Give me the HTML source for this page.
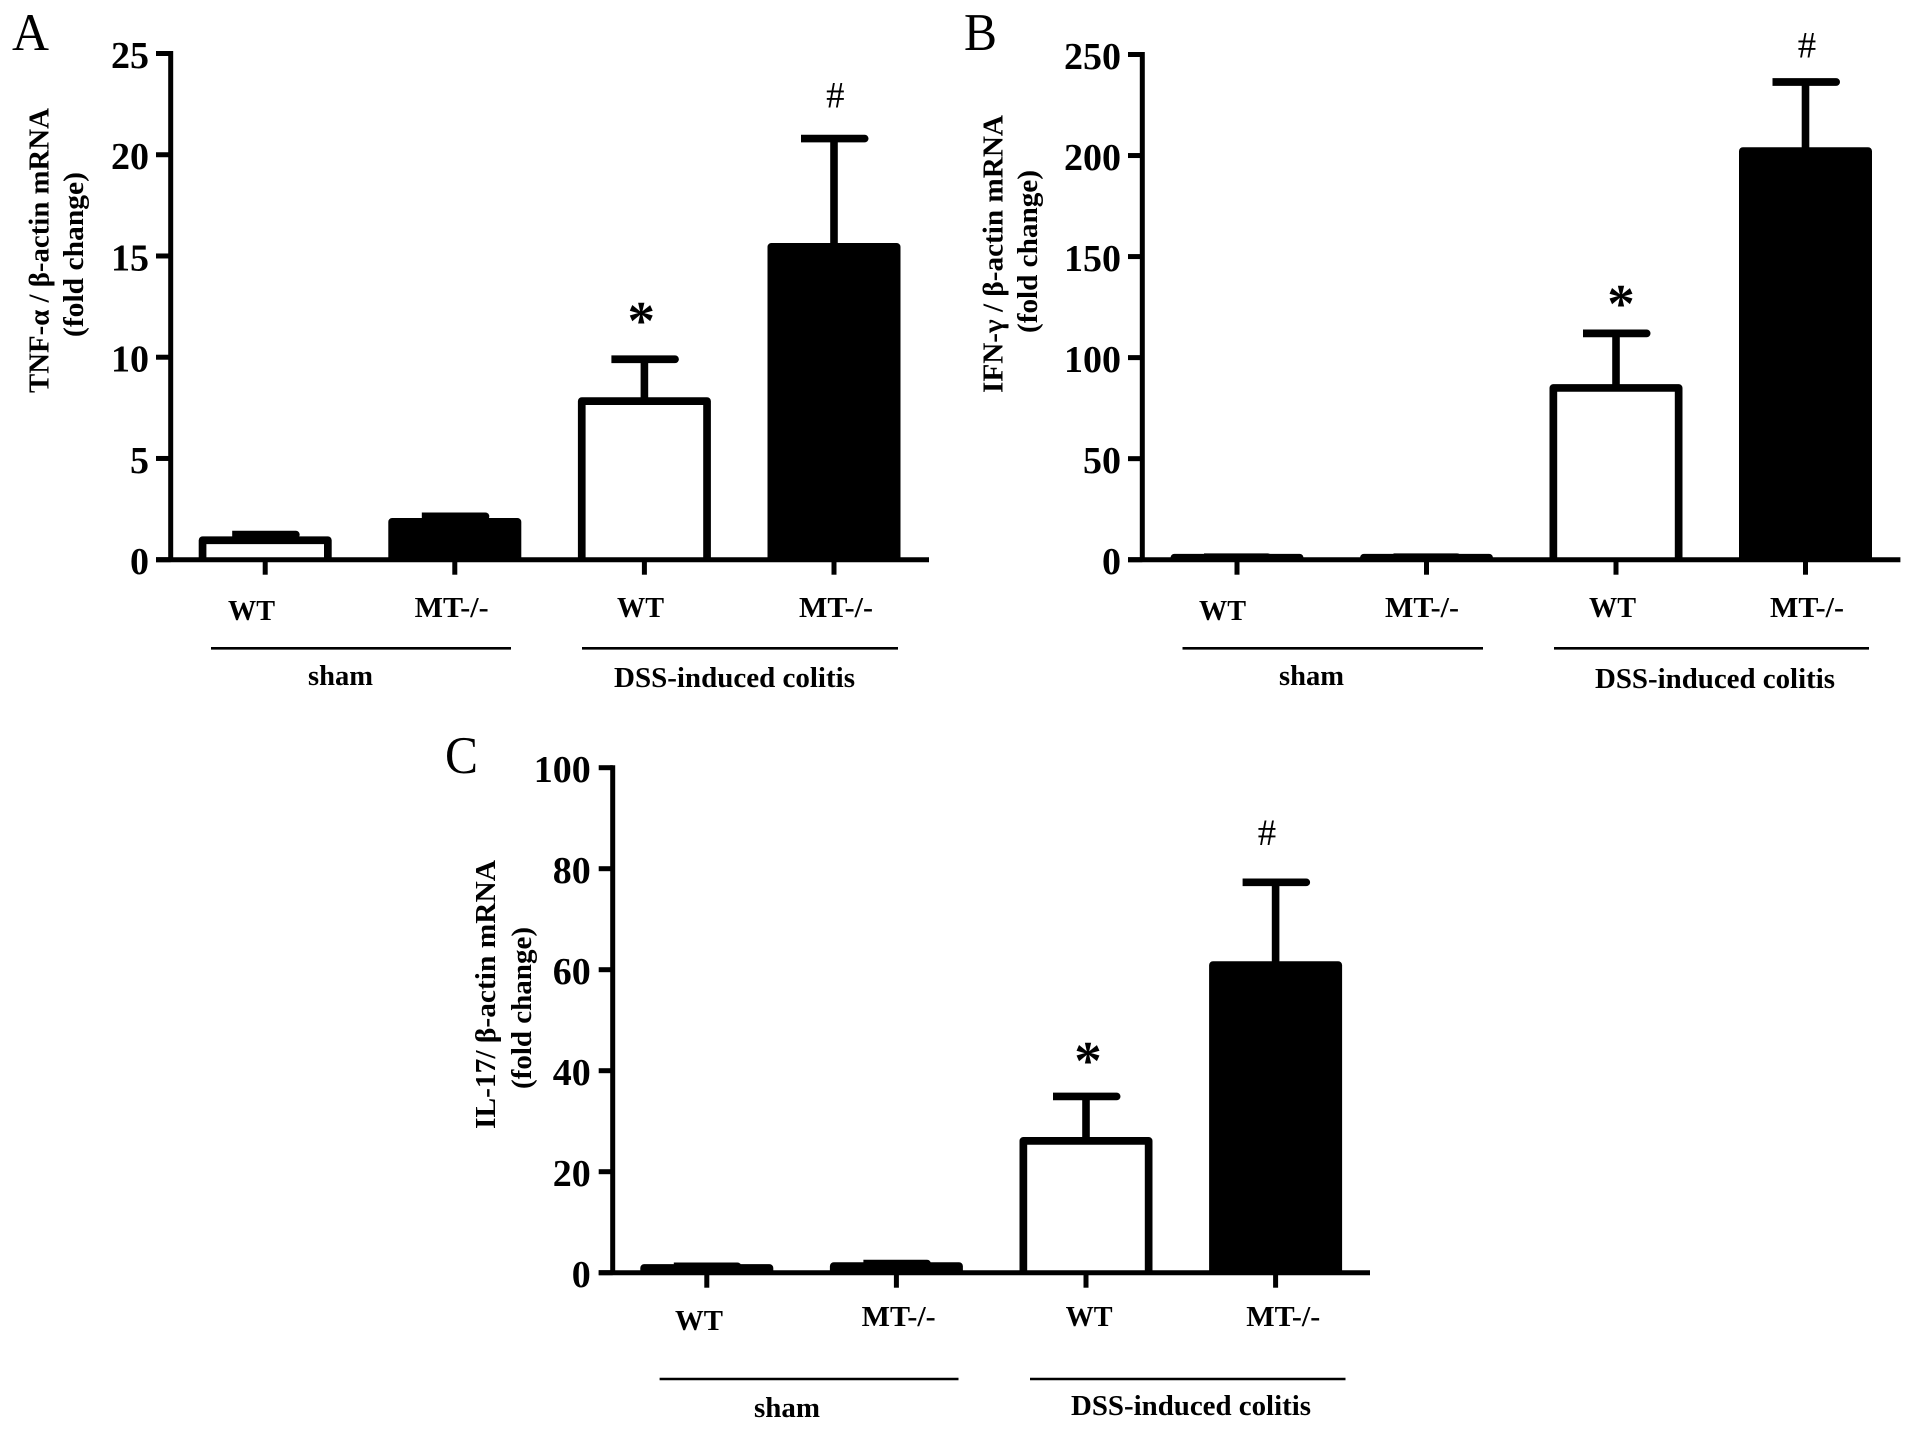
<!DOCTYPE html>
<html lang="en">
<head>
<meta charset="utf-8">
<title>Cytokine mRNA fold change bar charts</title>
<style>
html,body{margin:0;padding:0;background:#fff;}
svg{display:block;}
text{font-family:"Liberation Serif","DejaVu Serif",serif;fill:#000;}
.tick{font-weight:bold;font-size:38px;}
.xl{font-weight:bold;font-size:29px;}
.yl{font-weight:bold;font-size:29px;}
.letter{font-size:53px;}
.hash{font-size:37px;}
.star{font-size:55px;font-weight:bold;}
</style>
</head>
<body>
<svg id="figure" xmlns="http://www.w3.org/2000/svg" width="1913" height="1432" viewBox="0 0 1913 1432">
  <rect x="0" y="0" width="1913" height="1432" fill="#fff"/>

  <g id="panel-a">
    <text class="letter" x="12" y="50" textLength="37" lengthAdjust="spacingAndGlyphs">A</text>
    <text class="yl" transform="translate(48.3,393) rotate(-90)" textLength="285" lengthAdjust="spacingAndGlyphs">TNF-α / β-actin mRNA</text>
    <text class="yl" transform="translate(83,337) rotate(-90)" textLength="165" lengthAdjust="spacingAndGlyphs">(fold change)</text>
    <text class="xl" x="228" y="620" textLength="47" lengthAdjust="spacingAndGlyphs">WT</text>
    <text class="xl" x="414.6" y="617" textLength="74" lengthAdjust="spacingAndGlyphs">MT-/-</text>
    <text class="xl" x="617" y="617" textLength="47" lengthAdjust="spacingAndGlyphs">WT</text>
    <text class="xl" x="799" y="617" textLength="74" lengthAdjust="spacingAndGlyphs">MT-/-</text>
    <line x1="211" x2="511" y1="648.3" y2="648.3" stroke="#000" stroke-width="2.6"/>
    <line x1="582" x2="898" y1="648.3" y2="648.3" stroke="#000" stroke-width="2.6"/>
    <text class="xl" x="308" y="685" textLength="65" lengthAdjust="spacingAndGlyphs">sham</text>
    <text class="xl" x="614" y="687" textLength="241" lengthAdjust="spacingAndGlyphs">DSS-induced colitis</text>
    <text class="hash" x="835.3" y="107.5" text-anchor="middle" textLength="18.4" lengthAdjust="spacingAndGlyphs">#</text>
    <text class="star" x="641.3" y="339" text-anchor="middle">*</text>
  </g>

  <g id="panel-b">
    <text class="letter" x="964" y="50" textLength="33" lengthAdjust="spacingAndGlyphs">B</text>
    <text class="yl" transform="translate(1002.5,393) rotate(-90)" textLength="278" lengthAdjust="spacingAndGlyphs">IFN-γ / β-actin mRNA</text>
    <text class="yl" transform="translate(1037,333) rotate(-90)" textLength="163" lengthAdjust="spacingAndGlyphs">(fold change)</text>
    <text class="xl" x="1199" y="620" textLength="47" lengthAdjust="spacingAndGlyphs">WT</text>
    <text class="xl" x="1385" y="617" textLength="74" lengthAdjust="spacingAndGlyphs">MT-/-</text>
    <text class="xl" x="1589" y="617" textLength="47" lengthAdjust="spacingAndGlyphs">WT</text>
    <text class="xl" x="1770" y="617" textLength="74" lengthAdjust="spacingAndGlyphs">MT-/-</text>
    <line x1="1182.5" x2="1483" y1="648.3" y2="648.3" stroke="#000" stroke-width="2.6"/>
    <line x1="1554" x2="1869" y1="648.3" y2="648.3" stroke="#000" stroke-width="2.6"/>
    <text class="xl" x="1279" y="685" textLength="65" lengthAdjust="spacingAndGlyphs">sham</text>
    <text class="xl" x="1595" y="688" textLength="240" lengthAdjust="spacingAndGlyphs">DSS-induced colitis</text>
    <text class="hash" x="1807" y="57.4" text-anchor="middle" textLength="18.4" lengthAdjust="spacingAndGlyphs">#</text>
    <text class="star" x="1621" y="322" text-anchor="middle">*</text>
  </g>

  <g id="panel-c">
    <text class="letter" x="445" y="773" textLength="33" lengthAdjust="spacingAndGlyphs">C</text>
    <text class="yl" transform="translate(495,1129) rotate(-90)" textLength="269" lengthAdjust="spacingAndGlyphs">IL-17/ β-actin mRNA</text>
    <text class="yl" transform="translate(531,1089) rotate(-90)" textLength="162" lengthAdjust="spacingAndGlyphs">(fold change)</text>
    <text class="xl" x="675" y="1330" textLength="48" lengthAdjust="spacingAndGlyphs">WT</text>
    <text class="xl" x="861.7" y="1326" textLength="74" lengthAdjust="spacingAndGlyphs">MT-/-</text>
    <text class="xl" x="1065.6" y="1326" textLength="47" lengthAdjust="spacingAndGlyphs">WT</text>
    <text class="xl" x="1246.3" y="1326" textLength="74" lengthAdjust="spacingAndGlyphs">MT-/-</text>
    <line x1="659.6" x2="958.5" y1="1379" y2="1379" stroke="#000" stroke-width="2.6"/>
    <line x1="1030" x2="1345.5" y1="1379" y2="1379" stroke="#000" stroke-width="2.6"/>
    <text class="xl" x="754" y="1417" textLength="66" lengthAdjust="spacingAndGlyphs">sham</text>
    <text class="xl" x="1071" y="1415" textLength="240" lengthAdjust="spacingAndGlyphs">DSS-induced colitis</text>
    <text class="hash" x="1267" y="845" text-anchor="middle" textLength="18.4" lengthAdjust="spacingAndGlyphs">#</text>
    <text class="star" x="1088" y="1079" text-anchor="middle">*</text>
  </g>
</svg>
<script>
// Chart values
const categories = ['sham-wt', 'sham-mt', 'dss-wt', 'dss-mt'];
const barFills = ['#fff', '#000', '#fff', '#000'];

const tnfTicks = [0, 5, 10, 15, 20, 25];
const tnfMeans = [0.96, 1.87, 7.83, 15.45];
const tnfUpper = [1.24, 2.14, 9.9, 20.8];

const ifnTicks = [0, 50, 100, 150, 200, 250];
const ifnMeans = [1.0, 1.0, 85, 202.2];
const ifnUpper = [1.2, 1.2, 112, 236.4];

const il17Ticks = [0, 20, 40, 60, 80, 100];
const il17Means = [0.94, 1.3, 26.1, 60.9];
const il17Upper = [1.26, 1.8, 34.9, 77.3];

const svgNS = 'http://www.w3.org/2000/svg';

function make(tag, parent) {
  const el = document.createElementNS(svgNS, tag);
  parent.appendChild(el);
  return el;
}

function drawPanel(cfg) {
  const root = document.getElementById(cfg.id);
  const maxV = cfg.ticks[cfg.ticks.length - 1];
  const yScale = v => cfg.y0 - (v / maxV) * (cfg.y0 - cfg.yTop);
  const xScale = i => cfg.x0 + i * cfg.step;
  const halfBar = 62.65;
  const barStroke = 7.7;

  cfg.means.forEach((m, i) => {
    const cx = xScale(i);
    const yMean = yScale(m);
    const yUp = yScale(cfg.upper[i]);

    const stem = make('line', root);
    
    
    stem.setAttribute('x1', cx);
    stem.setAttribute('x2', cx);
    stem.setAttribute('y1', yMean);
    stem.setAttribute('y2', yUp);
    stem.setAttribute('stroke', '#000');
    stem.setAttribute('stroke-width', 7.6);

    const capHalf = barStroke / 2;
    const cap = make('path', root);
    
    
    cap.setAttribute('d', 'M' + (cx - 33) + ' ' + (yUp - capHalf) +
      ' H' + (cx + 34.5 - capHalf) +
      ' a' + capHalf + ' ' + capHalf + ' 0 0 1 0 ' + barStroke +
      ' H' + (cx - 33) + ' Z');
    cap.setAttribute('fill', '#000');

    const bar = make('path', root);
    
    
    bar.setAttribute('d', 'M' + (cx - halfBar) + ' ' + cfg.y0 +
      ' V' + yMean + ' H' + (cx + halfBar) + ' V' + cfg.y0);
    bar.setAttribute('fill', barFills[i]);
    bar.setAttribute('stroke', '#000');
    bar.setAttribute('stroke-width', barStroke);
    bar.setAttribute('stroke-linejoin', 'round');

    const tick = make('line', root);
    
    
    tick.setAttribute('x1', cx);
    tick.setAttribute('x2', cx);
    tick.setAttribute('y1', cfg.y0);
    tick.setAttribute('y2', cfg.y0 + 15);
    tick.setAttribute('stroke', '#000');
    tick.setAttribute('stroke-width', 5);
  });

  const yAxis = make('line', root);
  
  
  yAxis.setAttribute('x1', cfg.axisX);
  yAxis.setAttribute('x2', cfg.axisX);
  yAxis.setAttribute('y1', cfg.yTop - 2.5);
  yAxis.setAttribute('y2', cfg.y0);
  yAxis.setAttribute('stroke', '#000');
  yAxis.setAttribute('stroke-width', 5);

  const xAxis = make('line', root);
  
  
  xAxis.setAttribute('x1', cfg.axisLeft);
  xAxis.setAttribute('x2', cfg.axisRight);
  xAxis.setAttribute('y1', cfg.y0);
  xAxis.setAttribute('y2', cfg.y0);
  xAxis.setAttribute('stroke', '#000');
  xAxis.setAttribute('stroke-width', 5);

  cfg.ticks.forEach(t => {
    const y = yScale(t);
    const mark = make('line', root);
    
    
    mark.setAttribute('x1', cfg.axisLeft);
    mark.setAttribute('x2', cfg.axisX);
    mark.setAttribute('y1', y);
    mark.setAttribute('y2', y);
    mark.setAttribute('stroke', '#000');
    mark.setAttribute('stroke-width', 5);

    const label = make('text', root);
    
    
    label.setAttribute('class', 'tick');
    label.setAttribute('x', cfg.labelRight);
    label.setAttribute('y', y + 14.5);
    label.setAttribute('text-anchor', 'end');
    label.textContent = String(t);
  });
}

drawPanel({id: 'panel-a', ticks: tnfTicks, means: tnfMeans, upper: tnfUpper,
  y0: 559.7, yTop: 53.5, x0: 265.2, step: 189.6, axisX: 170.7, axisLeft: 156, axisRight: 929, labelRight: 149});
drawPanel({id: 'panel-b', ticks: ifnTicks, means: ifnMeans, upper: ifnUpper,
  y0: 559.7, yTop: 54.5, x0: 1237, step: 189.5, axisX: 1142.3, axisLeft: 1128, axisRight: 1900.4, labelRight: 1121});
drawPanel({id: 'panel-c', ticks: il17Ticks, means: il17Means, upper: il17Upper,
  y0: 1272.7, yTop: 767.7, x0: 706.8, step: 189.6, axisX: 612.7, axisLeft: 598.7, axisRight: 1370, labelRight: 590.7});
</script>
</body>
</html>
